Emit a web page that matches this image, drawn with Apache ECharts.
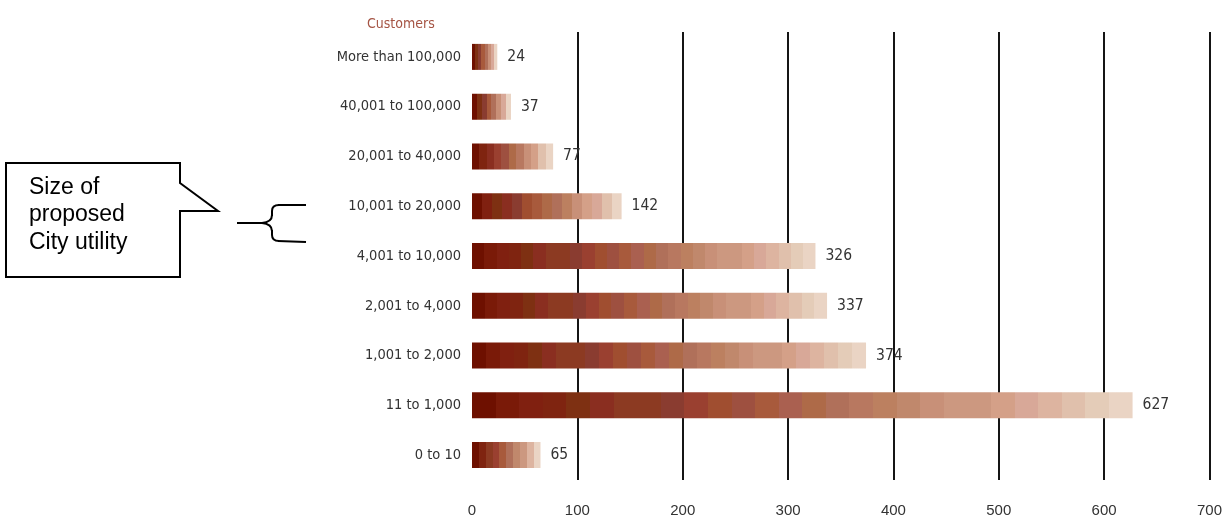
<!DOCTYPE html>
<html>
<head>
<meta charset="utf-8">
<script src="https://cdn.jsdelivr.net/npm/echarts@6/dist/echarts.min.js"></script>
<style>
  html, body { margin: 0; padding: 0; background: #ffffff; }
  #chart { width: 1225px; height: 519px; }
</style>
</head>
<body>
<div id="chart"></div>
<script>
// Utility size bands (number of customers) and how many utilities fall in each
const categories = [
  'More than 100,000',
  '40,001 to 100,000',
  '20,001 to 40,000',
  '10,001 to 20,000',
  '4,001 to 10,000',
  '2,001 to 4,000',
  '1,001 to 2,000',
  '11 to 1,000',
  '0 to 10'
];
const counts = [24, 37, 77, 142, 326, 337, 374, 627, 65];
const axisTicks = [0, 100, 200, 300, 400, 500, 600, 700];
const calloutLines = ['Size of', 'proposed', 'City utility'];
const axisTitle = 'Customers';

// Banded dark-to-light shading used along each bar
const shades = [
  '#6e1000', '#7a1a08', '#802010', '#7f2410', '#7e3012', '#8a2e20',
  '#8c3a22', '#8a3c30', '#9a4030', '#a04e30', '#9e5040', '#a85a3c',
  '#aa6050', '#ae6a48', '#b0705a', '#b87860', '#bc8060', '#c0886c',
  '#c89078', '#cc9880', '#d4a088', '#d8a898', '#ddb4a0', '#e0c0ac',
  '#e4ccb8', '#ead4c4'
];

function bandedGradient(value) {
  const n = Math.max(8, Math.min(28, Math.round(6 + value / 15)));
  const stops = [];
  for (let i = 0; i < n; i++) {
    const c = shades[Math.round(i * (shades.length - 1) / (n - 1))];
    stops.push({ offset: i / n, color: c });
    stops.push({ offset: (i + 1) / n, color: c });
  }
  return new echarts.graphic.LinearGradient(0, 0, 1, 0, stops);
}

const narrow = '"Liberation Sans Narrow", "Arial Narrow", "DejaVu Sans Condensed", sans-serif';
const regular = '"Liberation Sans", Arial, sans-serif';

const chart = echarts.init(document.getElementById('chart'), null, { renderer: 'canvas' });

const gridColors = axisTicks.map(function (t) { return t === 0 ? 'rgba(0,0,0,0)' : '#151515'; });

const calloutText = calloutLines.map(function (line, i) {
  return {
    type: 'text',
    left: 29,
    top: 176 + i * 27.5,
    style: { text: line, fill: '#000', fontSize: 23, fontFamily: regular }
  };
});

// Curly bracket beside the callout: straight strokes plus rounded corners
const ink = { stroke: '#000', lineWidth: 2, fill: 'none' };
const bracket = [
  { type: 'line', shape: { x1: 237, y1: 223, x2: 263, y2: 223 }, style: ink },
  { type: 'bezierCurve', shape: { x1: 262, y1: 223, cpx1: 272, cpy1: 222, x2: 272, y2: 215 }, style: ink },
  { type: 'line', shape: { x1: 272, y1: 216, x2: 272, y2: 211 }, style: ink },
  { type: 'bezierCurve', shape: { x1: 272, y1: 211, cpx1: 272, cpy1: 205, x2: 279, y2: 205 }, style: ink },
  { type: 'line', shape: { x1: 278, y1: 205, x2: 306, y2: 205 }, style: ink },
  { type: 'bezierCurve', shape: { x1: 262, y1: 223, cpx1: 272, cpy1: 224, x2: 272, y2: 231 }, style: ink },
  { type: 'line', shape: { x1: 272, y1: 230, x2: 272, y2: 235 }, style: ink },
  { type: 'bezierCurve', shape: { x1: 272, y1: 235, cpx1: 272, cpy1: 241, x2: 279, y2: 241 }, style: ink },
  { type: 'line', shape: { x1: 278, y1: 241, x2: 306, y2: 242 }, style: ink }
];

chart.setOption({
  animation: false,
  backgroundColor: '#ffffff',
  title: {
    text: axisTitle,
    left: 362,
    top: 12,
    textStyle: { fontFamily: narrow, fontSize: 14, fontWeight: 'normal', color: '#a55444' }
  },
  grid: { left: 472, right: 14, top: 32, bottom: 39, containLabel: false },
  xAxis: {
    type: 'value',
    min: axisTicks[0],
    max: axisTicks[axisTicks.length - 1],
    interval: 100,
    axisLine: { show: false },
    axisTick: { show: false },
    axisLabel: { color: '#333', fontFamily: regular, fontSize: 15, margin: 23 },
    splitLine: { show: true, lineStyle: { color: gridColors, width: 2 } }
  },
  yAxis: {
    type: 'category',
    inverse: true,
    data: categories,
    axisLine: { show: false },
    axisTick: { show: false },
    axisLabel: { color: '#333', fontFamily: narrow, fontSize: 14.5, margin: 11 }
  },
  series: [{
    type: 'bar',
    barWidth: 26,
    data: counts.map(function (v) {
      return { value: v, itemStyle: { color: bandedGradient(v) } };
    }),
    label: {
      show: true,
      position: 'right',
      distance: 10,
      color: '#333',
      fontFamily: narrow,
      fontSize: 15.5
    }
  }],
  graphic: [
    {
      type: 'polygon',
      shape: {
        points: [[6, 163], [180, 163], [180, 183], [218, 211], [180, 211], [180, 277], [6, 277]]
      },
      style: { fill: '#fff', stroke: '#000', lineWidth: 2 }
    }
  ].concat(bracket, calloutText)
});
</script>
</body>
</html>
